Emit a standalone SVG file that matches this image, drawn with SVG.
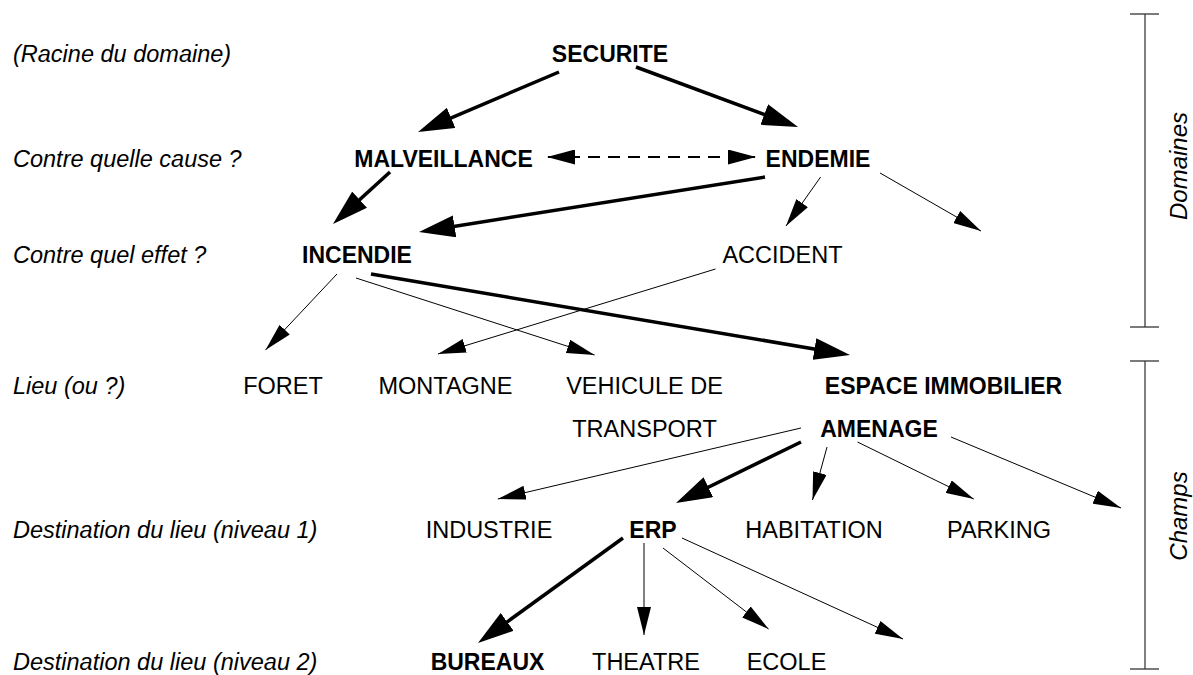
<svg xmlns="http://www.w3.org/2000/svg" width="1193" height="675" viewBox="0 0 1193 675">
<style>
text{font-family:"Liberation Sans",Arial,sans-serif;fill:#000}
.lbl{font-size:23.5px;font-style:italic}
.b{font-size:23px;font-weight:bold;text-anchor:middle}
.r{font-size:23.5px;text-anchor:middle}
.side{font-size:24px;font-style:italic;text-anchor:middle}
.thick{stroke:#000;stroke-width:3.5;fill:none;marker-end:url(#hThick)}
.thin{stroke:#000;stroke-width:1;fill:none;marker-end:url(#hThin)}
.dash{stroke:#000;stroke-width:2;fill:none;stroke-dasharray:12 8;marker-start:url(#hDash);marker-end:url(#hDash)}
.brk{stroke:#808080;stroke-width:2}
.tick{stroke:#333;stroke-width:1.3}
</style>
<defs>
<marker id="hThick" markerUnits="userSpaceOnUse" viewBox="0 0 36 22" markerWidth="36" markerHeight="22" refX="28" refY="11" orient="auto"><path d="M0,0 L36,11 L0,22 Z" fill="#000"/></marker>
<marker id="hThin" markerUnits="userSpaceOnUse" viewBox="0 0 28 14" markerWidth="28" markerHeight="14" refX="28" refY="7" orient="auto"><path d="M0,0 L28,7 L0,14 Z" fill="#000"/></marker>
<marker id="hDash" markerUnits="userSpaceOnUse" viewBox="0 0 28 15" markerWidth="28" markerHeight="15" refX="27" refY="7.5" orient="auto-start-reverse"><path d="M0,0 L28,7.5 L0,15 Z" fill="#000"/></marker>
</defs>
<rect width="1193" height="675" fill="#fff"/>

<g id="level-labels">
<text class="lbl" x="13" y="62">(Racine du domaine)</text>
<text class="lbl" x="13" y="167">Contre quelle cause ?</text>
<text class="lbl" x="13" y="263">Contre quel effet ?</text>
<text class="lbl" x="13" y="394">Lieu (ou ?)</text>
<text class="lbl" x="13" y="538">Destination du lieu (niveau 1)</text>
<text class="lbl" x="13" y="670">Destination du lieu (niveau 2)</text>
</g>

<g id="brackets">
<line class="brk" x1="1145" y1="14" x2="1145" y2="327"/>
<line class="tick" x1="1130" y1="14" x2="1159" y2="14"/>
<line class="tick" x1="1130" y1="327" x2="1159" y2="327"/>
<text class="side" transform="translate(1187,166) rotate(-90)">Domaines</text>
<line class="brk" x1="1145" y1="361" x2="1145" y2="669"/>
<line class="tick" x1="1130" y1="361" x2="1159" y2="361"/>
<line class="tick" x1="1130" y1="669" x2="1159" y2="669"/>
<text class="side" transform="translate(1187,516) rotate(-90)">Champs</text>
</g>

<g id="connectors">
<path class="thick" d="M559,72 L425.4,128.9"/>
<path class="thick" d="M636,67 L790.5,124.2"/>
<path class="dash" d="M548,157 L755,157"/>
<path class="thick" d="M390,172 L338.9,218.6"/>
<path class="thick" d="M765,177 L426.9,230.7"/>
<path class="thin" d="M820.6,177 L786,226"/>
<path class="thin" d="M880,173 L981,231"/>
<path class="thin" d="M337,274 L265.5,350"/>
<path class="thin" d="M356,278 L594.6,355"/>
<path class="thin" d="M715.5,269 L438,354"/>
<path class="thick" d="M371,274 L842.1,353.7"/>
<path class="thin" d="M801,428 L497.8,499"/>
<path class="thick" d="M801,442 L683.2,499.5"/>
<path class="thin" d="M827,447 L812.5,500"/>
<path class="thin" d="M857.5,442 L973.8,499"/>
<path class="thin" d="M951,437 L1121,508"/>
<path class="thick" d="M623,538 L484.5,638.3"/>
<path class="thin" d="M644,543 L644,635"/>
<path class="thin" d="M663,548 L768.6,629"/>
<path class="thin" d="M682,538 L903,639"/>
</g>

<g id="n-securite"><text class="b" x="610" y="62">SECURITE</text></g>
<g id="n-malveillance"><text class="b" x="443.5" y="167">MALVEILLANCE</text></g>
<g id="n-endemie"><text class="b" x="818" y="167">ENDEMIE</text></g>
<g id="n-incendie"><text class="b" x="357" y="263">INCENDIE</text></g>
<g id="n-accident"><text class="r" x="782.5" y="263">ACCIDENT</text></g>
<g id="n-foret"><text class="r" x="283" y="394">FORET</text></g>
<g id="n-montagne"><text class="r" x="445.5" y="394">MONTAGNE</text></g>
<g id="n-vehicule"><text class="r" x="644.5" y="394">VEHICULE DE</text><text class="r" x="644.5" y="437">TRANSPORT</text></g>
<g id="n-espace"><text class="b" x="943.5" y="394">ESPACE IMMOBILIER</text><text class="b" x="879" y="437">AMENAGE</text></g>
<g id="n-industrie"><text class="r" x="489" y="538">INDUSTRIE</text></g>
<g id="n-erp"><text class="b" x="653" y="538">ERP</text></g>
<g id="n-habitation"><text class="r" x="814" y="538">HABITATION</text></g>
<g id="n-parking"><text class="r" x="999" y="538">PARKING</text></g>
<g id="n-bureaux"><text class="b" x="487.5" y="670">BUREAUX</text></g>
<g id="n-theatre"><text class="r" x="646" y="670">THEATRE</text></g>
<g id="n-ecole"><text class="r" x="786.5" y="670">ECOLE</text></g>
</svg>
